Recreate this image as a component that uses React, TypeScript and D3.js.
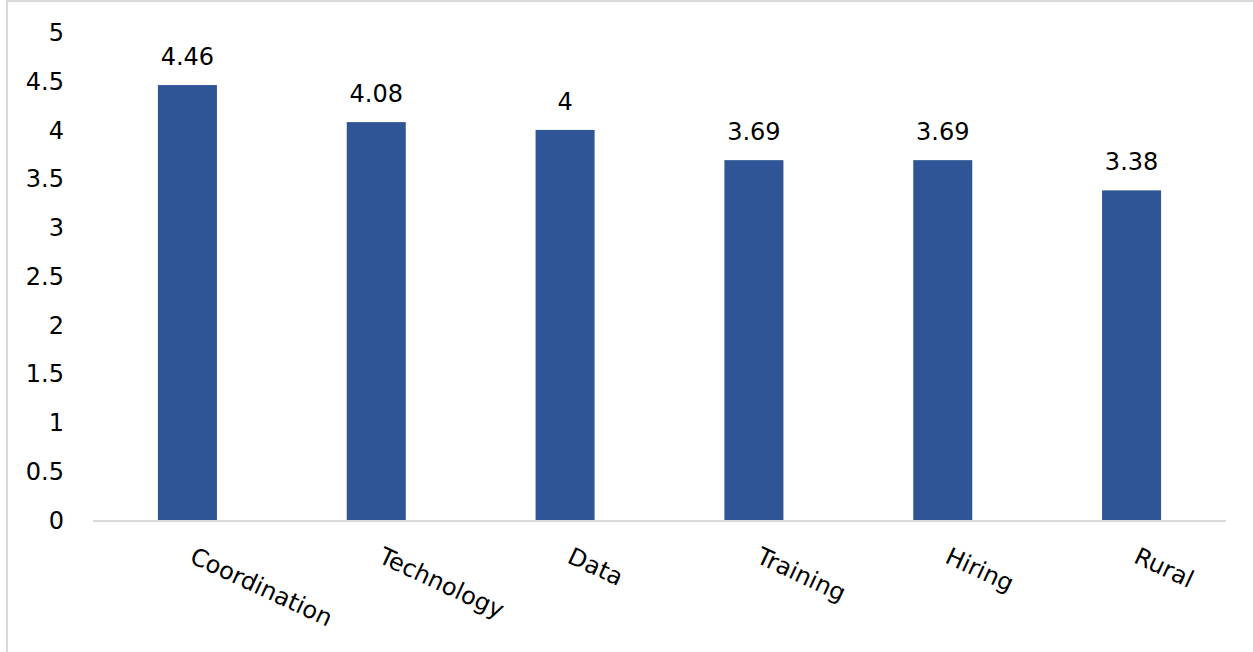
import React from "react";
import * as d3 from "d3";

const categories = ["Coordination", "Technology", "Data", "Training", "Hiring", "Rural"];
const values = [4.46, 4.08, 4, 3.69, 3.69, 3.38];
const yTicks = [0, 0.5, 1, 1.5, 2, 2.5, 3, 3.5, 4, 4.5, 5];

const W = 1253;
const H = 652;
const FONT = "'DejaVu Sans', 'Open Sans', sans-serif";

export default function App() {
  const x = d3.scaleBand<string>().domain(categories).range([93, 1226]).padding(0);
  const y = d3.scaleLinear().domain([0, 5]).range([520, 32.4]);
  const barW = x.step() * 0.3125;

  return (
    <svg
      width={W}
      height={H}
      style={{ position: "absolute", left: 0, top: 0, background: "#fff" }}
      fontFamily={FONT}
    >
      <rect x={7} y={1} width={W + 10} height={H + 10} fill="#fff" stroke="#d9d9d9" strokeWidth={2} />
      {yTicks.map((t) => (
        <text key={t} x={64} y={y(t)} dy="0.36em" textAnchor="end" fontSize={24} fill="#000">
          {d3.format("~g")(t)}
        </text>
      ))}
      {categories.map((c, i) => {
        const cx = (x(c) as number) + x.bandwidth() / 2;
        return (
          <g key={c}>
            <rect x={cx - barW / 2} y={y(values[i])} width={barW} height={y(0) - y(values[i])} fill="#2F5597" />
            <text x={cx} y={y(values[i]) - 20} textAnchor="middle" fontSize={24} fill="#000">
              {d3.format("~g")(values[i])}
            </text>
            <text
              transform={`translate(${cx + 1},${562}) rotate(25)`}
              textAnchor="start"
              fontSize={24}
              fill="#000"
            >
              {c}
            </text>
          </g>
        );
      })}
      <line x1={93} x2={1226} y1={y(0) + 1} y2={y(0) + 1} stroke="#d9d9d9" strokeWidth={2} />
    </svg>
  );
}
